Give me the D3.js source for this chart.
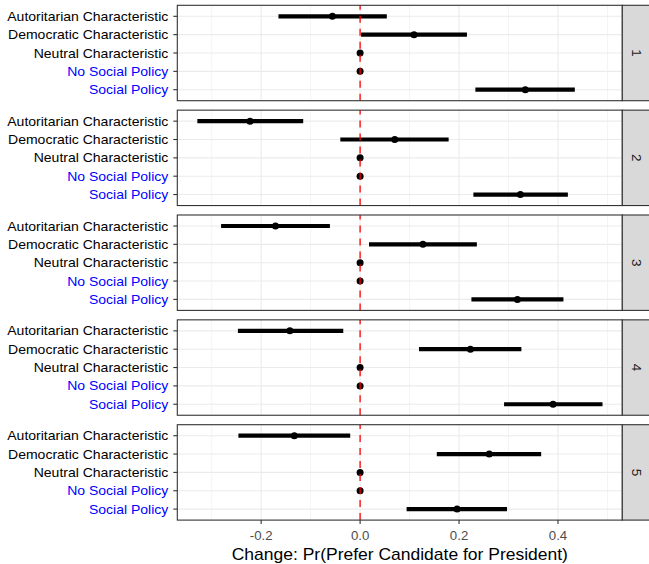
<!DOCTYPE html>
<html>
<head>
<meta charset="utf-8">
<script src="https://cdn.jsdelivr.net/npm/d3@7"></script>
<style>
  body { margin: 0; background: #fff; }
  svg { display: block; font-family: "Liberation Sans", Arial, sans-serif; }
</style>
</head>
<body>
<script>
// categories top to bottom, one row each in every panel
var categories = ["Autoritarian Characteristic", "Democratic Characteristic", "Neutral Characteristic", "No Social Policy", "Social Policy"];
var labelColors = ["black", "black", "black", "blue", "blue"];
var facets = ["1", "2", "3", "4", "5"];

// point estimates, per facet, same order as categories
var estimates = [
    [-0.056, 0.109, 0, 0, 0.334],
    [-0.2225, 0.070, 0, 0, 0.324],
    [-0.171, 0.127, 0, 0, 0.318],
    [-0.142, 0.223, 0, 0, 0.390],
    [-0.133, 0.261, 0, 0, 0.196]
];
var lowers = [
    [-0.165, 0.002, 0, 0, 0.233],
    [-0.329, -0.040, 0, 0, 0.229],
    [-0.281, 0.018, 0, 0, 0.225],
    [-0.247, 0.119, 0, 0, 0.291],
    [-0.246, 0.155, 0, 0, 0.094]
];
var uppers = [
    [0.054, 0.216, 0, 0, 0.434],
    [-0.115, 0.179, 0, 0, 0.420],
    [-0.061, 0.236, 0, 0, 0.411],
    [-0.034, 0.326, 0, 0, 0.490],
    [-0.020, 0.366, 0, 0, 0.297]
];
var xTicks = [-0.2, 0, 0.2, 0.4];
var xMinor = [-0.3, -0.1, 0.1, 0.3, 0.5];
var xTitle = "Change: Pr(Prefer Candidate for President)";

var width = 649, height = 564;
var left = 177.3, right = 622.3;
var panelTop = 5.3, panelH = 95.4, panelStep = 104.85;
var stripW = 29.4;
var sx = 1.07; // text in the reference is a bit wider than Arial

var svg = d3.select("body").append("svg")
    .attr("width", width)
    .attr("height", height);

var x = d3.scaleLinear()
    .domain([-0.3695, 0.53])
    .range([left, right]);

facets.forEach(function (f, i) {
    var top = panelTop + i * panelStep;
    var y = d3.scalePoint()
        .domain(categories)
        .range([top, top + panelH])
        .padding(0.6);

    var g = svg.append("g").attr("class", "panel");

    g.append("rect")
        .attr("x", left).attr("y", top)
        .attr("width", right - left).attr("height", panelH)
        .attr("fill", "#fff");

    // grid
    g.selectAll(".minor").data(xMinor).enter().append("line")
        .attr("x1", function (d) { return x(d); })
        .attr("x2", function (d) { return x(d); })
        .attr("y1", top).attr("y2", top + panelH)
        .attr("stroke", "#EBEBEB").attr("stroke-width", 0.55);
    g.selectAll(".major").data(xTicks).enter().append("line")
        .attr("x1", function (d) { return x(d); })
        .attr("x2", function (d) { return x(d); })
        .attr("y1", top).attr("y2", top + panelH)
        .attr("stroke", "#EBEBEB").attr("stroke-width", 1.1);
    g.selectAll(".hgrid").data(categories).enter().append("line")
        .attr("x1", left).attr("x2", right)
        .attr("y1", function (d) { return y(d); })
        .attr("y2", function (d) { return y(d); })
        .attr("stroke", "#EBEBEB").attr("stroke-width", 1.1);

    // error bars and points
    g.selectAll(".bar").data(categories).enter().append("line")
        .attr("x1", function (d, j) { return x(lowers[i][j]); })
        .attr("x2", function (d, j) { return x(uppers[i][j]); })
        .attr("y1", function (d) { return y(d); })
        .attr("y2", function (d) { return y(d); })
        .attr("stroke", "black").attr("stroke-width", 4.2);
    g.selectAll(".pt").data(categories).enter().append("circle")
        .attr("cx", function (d, j) { return x(estimates[i][j]); })
        .attr("cy", function (d) { return y(d); })
        .attr("r", 3.5)
        .attr("fill", "black");

    // zero reference
    g.append("line")
        .attr("x1", x(0)).attr("x2", x(0))
        .attr("y1", top + panelH).attr("y2", top)
        .attr("stroke", "#FF0000").attr("stroke-width", 1.3)
        .attr("stroke-dasharray", "7,6");

    g.append("rect")
        .attr("x", left).attr("y", top)
        .attr("width", right - left).attr("height", panelH)
        .attr("fill", "none").attr("stroke", "#333333").attr("stroke-width", 1.1);

    // strip
    g.append("rect")
        .attr("x", right).attr("y", top)
        .attr("width", stripW).attr("height", panelH)
        .attr("fill", "#D9D9D9").attr("stroke", "#333333").attr("stroke-width", 1.1);
    g.append("text")
        .attr("transform", "translate(" + (right + stripW / 2) + "," + (top + panelH / 2) + ") rotate(90)")
        .attr("text-anchor", "middle")
        .attr("dy", "0.35em")
        .attr("font-size", 13.5)
        .attr("fill", "#1A1A1A")
        .text(f);

    // y axis
    var yAxis = g.append("g");
    yAxis.selectAll("line").data(categories).enter().append("line")
        .attr("x1", left - 4).attr("x2", left)
        .attr("y1", function (d) { return y(d); })
        .attr("y2", function (d) { return y(d); })
        .attr("stroke", "#333333").attr("stroke-width", 1.1);
    yAxis.selectAll("text").data(categories).enter().append("text")
        .attr("transform", function (d) {
            return "translate(" + (left - 9) + "," + (y(d) + 4.6) + ") scale(" + sx + ",1)";
        })
        .attr("text-anchor", "end")
        .attr("font-size", 13.1)
        .attr("fill", function (d, j) { return labelColors[j]; })
        .text(function (d) { return d; });
});

// x axis under last panel
var bottom = panelTop + (facets.length - 1) * panelStep + panelH;
var xAxis = svg.append("g");
xAxis.selectAll("line").data(xTicks).enter().append("line")
    .attr("x1", function (d) { return x(d); })
    .attr("x2", function (d) { return x(d); })
    .attr("y1", bottom).attr("y2", bottom + 4)
    .attr("stroke", "#333333").attr("stroke-width", 1.1);
xAxis.selectAll("text").data(xTicks).enter().append("text")
    .attr("transform", function (d) {
        return "translate(" + x(d) + "," + (bottom + 19.5) + ") scale(" + sx + ",1)";
    })
    .attr("text-anchor", "middle")
    .attr("font-size", 12.4)
    .attr("fill", "#4D4D4D")
    .text(function (d) { return d3.format(".1f")(d).replace("−", "-"); });

svg.append("text")
    .attr("transform", "translate(" + (left + right) / 2 + "," + (bottom + 40) + ") scale(1.1,1)")
    .attr("text-anchor", "middle")
    .attr("font-size", 15.9)
    .attr("fill", "black")
    .text(xTitle);
</script>
</body>
</html>
